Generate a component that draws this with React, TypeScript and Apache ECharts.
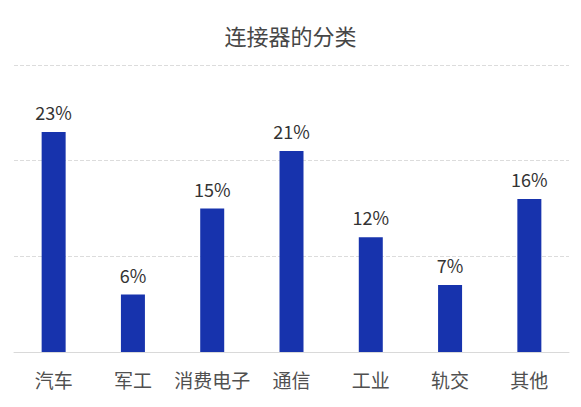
import React, { useEffect, useRef } from "react";
import * as echarts from "echarts";

const categories = ["汽车", "军工", "消费电子", "通信", "工业", "轨交", "其他"];
const values = [23, 6, 15, 21, 12, 7, 16];
const titleText = "连接器的分类";

const FONT = '"Microsoft YaHei", "Noto Sans CJK SC", sans-serif';

export default function App() {
  const ref = useRef<HTMLDivElement>(null);
  useEffect(() => {
    const chart = echarts.init(ref.current!, undefined, { renderer: "svg" });
    chart.setOption({
      animation: false,
      title: {
        text: titleText,
        left: "center",
        top: 19,
        textStyle: { fontSize: 22, fontWeight: "normal", color: "#464646", fontFamily: FONT },
      },
      grid: { left: 14, right: 12, top: 65, bottom: 55 },
      xAxis: {
        type: "category",
        data: categories,
        axisTick: { show: false },
        axisLine: { lineStyle: { color: "#d9d9d9" } },
        axisLabel: { interval: 0, fontSize: 19, color: "#505050", margin: 18, fontFamily: FONT },
      },
      yAxis: {
        type: "value",
        min: 0,
        max: 30,
        interval: 10,
        axisLabel: { show: false },
        axisLine: { show: false },
        axisTick: { show: false },
        splitLine: { lineStyle: { type: "dashed", color: "#dcdcdc" } },
      },
      series: [
        {
          type: "bar",
          data: values,
          barWidth: 24,
          itemStyle: { color: "#1733ad" },
          label: {
            show: true,
            position: "top",
            distance: 11,
            formatter: "{c}%",
            fontSize: 18,
            color: "#333333",
            fontFamily: FONT,
          },
        },
      ],
    });
    return () => chart.dispose();
  }, []);
  return (
    <div
      ref={ref}
      style={{ position: "absolute", left: 0, top: 0, width: 581, height: 407 }}
    />
  );
}
